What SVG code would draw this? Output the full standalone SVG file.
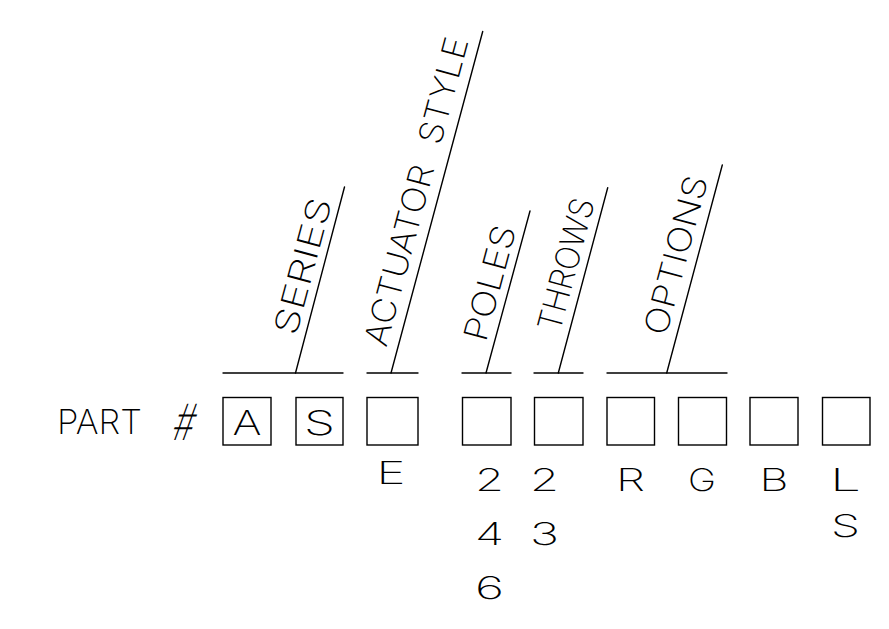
<svg xmlns="http://www.w3.org/2000/svg" width="889" height="629" viewBox="0 0 889 629">
<style>
.ln{stroke:#000;stroke-width:1.4;fill:none;stroke-linecap:round}
.bx{stroke:#000;stroke-width:1.4;fill:none}
.t{font-family:Inter,"Liberation Sans",sans-serif;font-weight:200;fill:#000}
.lbl{font-size:33px}
.big{font-size:34px}
.sm{font-size:31px;text-anchor:middle}
</style>
<rect width="889" height="629" fill="#fff"/>
<g id="connectors">
<line class="ln" x1="223" y1="373" x2="343" y2="373"/>
<line class="ln" x1="295.5" y1="373" x2="344.5" y2="187"/>
<line class="ln" x1="367" y1="373" x2="418" y2="373"/>
<line class="ln" x1="391" y1="373" x2="482.7" y2="31.5"/>
<line class="ln" x1="462" y1="373" x2="511" y2="373"/>
<line class="ln" x1="486" y1="373" x2="530" y2="211"/>
<line class="ln" x1="534" y1="373" x2="583" y2="373"/>
<line class="ln" x1="558.3" y1="373" x2="607.7" y2="187.7"/>
<line class="ln" x1="607" y1="373" x2="727" y2="373"/>
<line class="ln" x1="666.7" y1="373" x2="722.3" y2="165"/>
</g>
<g id="label-series"><text class="t lbl" transform="translate(295.9,336.8) rotate(-75)" textLength="140" lengthAdjust="spacingAndGlyphs">SERIES</text></g>
<g id="label-actuator"><text class="t lbl" transform="translate(386.3,348) rotate(-75)" word-spacing="12" textLength="318" lengthAdjust="spacingAndGlyphs">ACTUATOR STYLE</text></g>
<g id="label-poles"><text class="t lbl" transform="translate(485.7,342.9) rotate(-75)" textLength="118" lengthAdjust="spacingAndGlyphs">POLES</text></g>
<g id="label-throws"><text class="t lbl" transform="translate(559.7,333.1) rotate(-75)" textLength="136" lengthAdjust="spacingAndGlyphs">THROWS</text></g>
<g id="label-options"><text class="t lbl" transform="translate(666,337) rotate(-75)" textLength="163" lengthAdjust="spacingAndGlyphs">OPTIONS</text></g>
<g id="part-label"><text class="t big" x="57" y="434" textLength="85" lengthAdjust="spacingAndGlyphs">PART</text><text class="t" transform="translate(181,440) skewX(-14)" font-size="50" text-anchor="middle" textLength="21" lengthAdjust="spacingAndGlyphs">#</text></g>
<g id="box1"><rect class="bx" x="223" y="397.5" width="48" height="47.5"/><text class="t big" x="247" y="435" text-anchor="middle" textLength="29" lengthAdjust="spacingAndGlyphs">A</text></g>
<g id="box2"><rect class="bx" x="296" y="397.5" width="47" height="47.5"/><text class="t big" x="319.5" y="435" text-anchor="middle" textLength="31" lengthAdjust="spacingAndGlyphs">S</text></g>
<g id="box3"><rect class="bx" x="367" y="397.5" width="51" height="47.5"/><text class="t sm" x="391" y="484" textLength="29" lengthAdjust="spacingAndGlyphs">E</text></g>
<g id="box4"><rect class="bx" x="462.5" y="397.5" width="48.5" height="47.5"/><text class="t sm" x="489.5" y="490.5" textLength="29" lengthAdjust="spacingAndGlyphs">2</text><text class="t sm" x="489.5" y="545" textLength="29" lengthAdjust="spacingAndGlyphs">4</text><text class="t sm" x="489.5" y="599" textLength="29" lengthAdjust="spacingAndGlyphs">6</text></g>
<g id="box5"><rect class="bx" x="534.5" y="397.5" width="48.5" height="47.5"/><text class="t sm" x="544.5" y="490.5" textLength="29" lengthAdjust="spacingAndGlyphs">2</text><text class="t sm" x="544.5" y="545" textLength="29" lengthAdjust="spacingAndGlyphs">3</text></g>
<g id="box6"><rect class="bx" x="607" y="397.5" width="47.5" height="47.5"/><text class="t sm" x="630.5" y="490.5" textLength="29" lengthAdjust="spacingAndGlyphs">R</text></g>
<g id="box7"><rect class="bx" x="678.5" y="397.5" width="48" height="47.5"/><text class="t sm" x="702" y="490.5" textLength="28" lengthAdjust="spacingAndGlyphs">G</text></g>
<g id="box8"><rect class="bx" x="750" y="397.5" width="48" height="47.5"/><text class="t sm" x="774" y="490.5" textLength="29" lengthAdjust="spacingAndGlyphs">B</text></g>
<g id="box9"><rect class="bx" x="822.5" y="397.5" width="47.5" height="47.5"/><text class="t sm" x="845.5" y="490.5" textLength="31" lengthAdjust="spacingAndGlyphs">L</text><text class="t sm" x="845.5" y="536.7" textLength="29" lengthAdjust="spacingAndGlyphs">S</text></g>
</svg>
